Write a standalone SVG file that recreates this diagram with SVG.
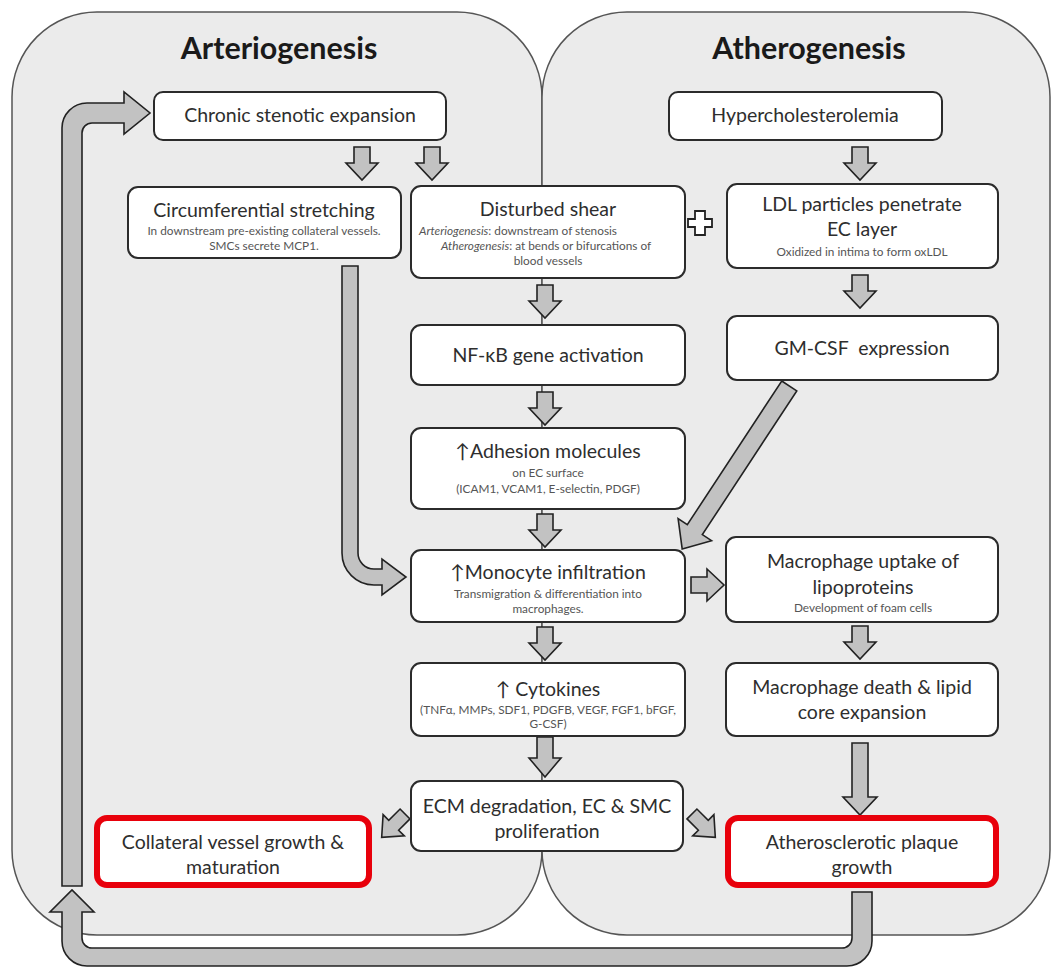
<svg xmlns="http://www.w3.org/2000/svg" width="1058" height="970" viewBox="0 0 1058 970">
<style>
.panel{fill:#ebebeb;stroke:#555;stroke-width:1.5}
.box{fill:#fff;stroke:#2b2b2b;stroke-width:2}
.red{fill:#fff;stroke:#e8000b;stroke-width:6}
.arr{fill:#c2c2c2;stroke:#222;stroke-width:1.6;stroke-linejoin:miter}
text{font-family:Lato,"Liberation Sans",sans-serif;fill:#2e2e2e;text-anchor:middle}
.h{font-size:30.5px;font-weight:bold;fill:#1a1a1a}
.t{font-size:19.5px}
.s{font-size:11.8px;fill:#555}
</style>
<defs>
<path id="da" d="M-8,-16 H8 V0 H16 L0,17 L-16,0 H-8 Z"/>
<path id="sa" d="M-7,-17 H7 V-1 H15 L0,16 L-15,-1 H-7 Z"/>
</defs>
<rect width="1058" height="970" fill="#fff"/>
<g id="panels">
<rect class="panel" x="12" y="12" width="530" height="923" rx="85" ry="85"/>
<rect class="panel" x="542" y="12" width="508" height="923" rx="85" ry="85"/>
<text class="h" x="279" y="59">Arteriogenesis</text>
<text class="h" x="809" y="59">Atherogenesis</text>
</g>
<g id="connectors">
<use href="#da" class="arr" transform="translate(362,163)"/>
<use href="#da" class="arr" transform="translate(432,163)"/>
<use href="#da" class="arr" transform="translate(860,163)"/>
<use href="#da" class="arr" transform="translate(545,301)"/>
<use href="#da" class="arr" transform="translate(860,291)"/>
<use href="#da" class="arr" transform="translate(545,408)"/>
<use href="#da" class="arr" transform="translate(545,530)"/>
<use href="#da" class="arr" transform="translate(545,643)"/>
<path class="arr" d="M537,737 H553 V758 H561 L545,777 L529,758 H537 Z"/>
<use href="#da" class="arr" transform="translate(860,642)"/>
<path class="arr" d="M852,743 H868 V797 H877 L860,815 L843,797 H852 Z"/>
<use href="#da" class="arr" transform="translate(707,585) rotate(-90)"/>
<use href="#sa" class="arr" transform="translate(393,826) rotate(45)"/>
<use href="#sa" class="arr" transform="translate(704,826) rotate(-45)"/>
<path class="arr" d="M342,266 H358 V553 A16,16 0 0 0 374,569 H382 V559 L406,577 L382,595 V585 H374 A32,32 0 0 1 342,553 Z"/>
<path class="arr" transform="translate(736,467) rotate(33.3)" d="M-9,-97 H9 V75 H20 L0,98 L-20,75 H-9 Z"/>
<path class="arr" d="M62,886 V128 A25,25 0 0 1 87,103 H124 V92 L150,113 L124,134 V123 H92 A10,10 0 0 0 82,133 V886 Z"/>
<path class="arr" d="M852,892 H872 V941 A25,25 0 0 1 847,966 H87 A25,25 0 0 1 62,941 V912 H50 L72,890 L94,912 H82 V938 A10,10 0 0 0 92,948 H842 A10,10 0 0 0 852,938 Z"/>
</g>
<g id="plus">
<path d="M695,211 H705 V219 H712 V227 H705 V235 H695 V227 H688 V219 H695 Z" fill="#fff" stroke="#222" stroke-width="1.8"/>
</g>
<g id="n-chronic">
<rect class="box" x="154" y="92" width="292" height="48" rx="9"/>
<text class="t" x="300" y="122">Chronic stenotic expansion</text>
</g>
<g id="n-hyper">
<rect class="box" x="669" y="92" width="273" height="48" rx="9"/>
<text class="t" x="805" y="122">Hypercholesterolemia</text>
</g>
<g id="n-circ">
<rect class="box" x="128" y="187" width="273" height="71" rx="10"/>
<text class="t" x="264" y="217">Circumferential stretching</text>
<text class="s" x="264" y="235">In downstream pre-existing collateral vessels.</text>
<text class="s" x="264" y="250">SMCs secrete MCP1.</text>
</g>
<g id="n-shear">
<rect class="box" x="411" y="186" width="274" height="92" rx="10"/>
<text class="t" x="548" y="216">Disturbed shear</text>
<text class="s" x="518" y="235"><tspan font-style="italic">Arteriogenesis</tspan>: downstream of stenosis</text>
<text class="s" x="546" y="250"><tspan font-style="italic">Atherogenesis</tspan>: at bends or bifurcations of</text>
<text class="s" x="548" y="265">blood vessels</text>
</g>
<g id="n-ldl">
<rect class="box" x="727" y="184" width="271" height="84" rx="10"/>
<text class="t" x="862" y="211">LDL particles penetrate</text>
<text class="t" x="862" y="236">EC layer</text>
<text class="s" x="862" y="256">Oxidized in intima to form oxLDL</text>
</g>
<g id="n-nfkb">
<rect class="box" x="411" y="325" width="274" height="60" rx="10"/>
<text class="t" x="548" y="362">NF-κB gene activation</text>
</g>
<g id="n-gmcsf">
<rect class="box" x="727" y="316" width="271" height="64" rx="10"/>
<text class="t" x="862" y="355" xml:space="preserve">GM-CSF  expression</text>
</g>
<g id="n-adhesion">
<rect class="box" x="411" y="428" width="274" height="81" rx="10"/>
<text class="t" x="548" y="458">↑Adhesion molecules</text>
<text class="s" x="548" y="477">on EC surface</text>
<text class="s" x="548" y="493">(ICAM1, VCAM1, E-selectin, PDGF)</text>
</g>
<g id="n-monocyte">
<rect class="box" x="411" y="550" width="274" height="72" rx="10"/>
<text class="t" x="548" y="579">↑Monocyte infiltration</text>
<text class="s" x="548" y="598">Transmigration &amp; differentiation into</text>
<text class="s" x="548" y="613">macrophages.</text>
</g>
<g id="n-uptake">
<rect class="box" x="726" y="537" width="272" height="85" rx="10"/>
<text class="t" x="863" y="568">Macrophage uptake of</text>
<text class="t" x="863" y="594">lipoproteins</text>
<text class="s" x="863" y="612">Development of foam cells</text>
</g>
<g id="n-cytokines">
<rect class="box" x="411" y="663" width="274" height="73" rx="10"/>
<text class="t" x="548" y="696">↑ Cytokines</text>
<text class="s" x="548" y="714">(TNFα, MMPs, SDF1, PDGFB, VEGF, FGF1, bFGF,</text>
<text class="s" x="548" y="728">G-CSF)</text>
</g>
<g id="n-death">
<rect class="box" x="726" y="663" width="272" height="73" rx="10"/>
<text class="t" x="862" y="694">Macrophage death &amp; lipid</text>
<text class="t" x="862" y="719">core expansion</text>
</g>
<g id="n-ecm">
<rect class="box" x="411" y="781" width="272" height="70" rx="10"/>
<text class="t" x="547" y="813">ECM degradation, EC &amp; SMC</text>
<text class="t" x="547" y="838">proliferation</text>
</g>
<g id="n-collateral">
<rect class="red" x="97" y="818" width="272" height="67" rx="10"/>
<text class="t" x="233" y="849">Collateral vessel growth &amp;</text>
<text class="t" x="233" y="874">maturation</text>
</g>
<g id="n-plaque">
<rect class="red" x="728" y="818" width="268" height="67" rx="10"/>
<text class="t" x="862" y="849">Atherosclerotic plaque</text>
<text class="t" x="862" y="874">growth</text>
</g>
</svg>
